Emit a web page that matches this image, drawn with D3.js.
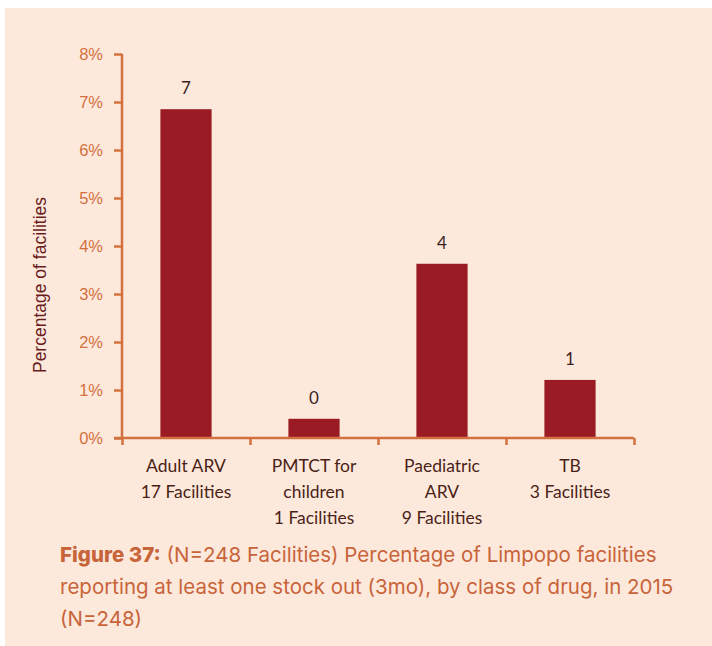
<!DOCTYPE html>
<html>
<head>
<meta charset="utf-8">
<script src="https://cdn.jsdelivr.net/npm/d3@7"></script>
<style>
  html, body { margin: 0; padding: 0; background: #ffffff; }
  svg { display: block; }
</style>
</head>
<body>
<svg id="chart" width="712" height="646"></svg>
<script>
const categories = [
  ["Adult ARV", "17 Facilities"],
  ["PMTCT for", "children", "1 Facilities"],
  ["Paediatric", "ARV", "9 Facilities"],
  ["TB", "3 Facilities"]
];
const percentValues = [6.85, 0.40, 3.63, 1.21];
const valueLabels = ["7", "0", "4", "1"];
const yTicks = [0, 1, 2, 3, 4, 5, 6, 7, 8];
const yTitle = "Percentage of facilities";
const captionBold = "Figure 37:";
const captionLines = [
  " (N=248 Facilities) Percentage of Limpopo facilities",
  "reporting at least one stock out (3mo), by class of drug, in 2015",
  "(N=248)"
];

const W = 712, H = 646;
const svg = d3.select("#chart");
const axisColor = "#d2703f";
const barColor = "#9a1b23";
const bg = "#fde9dc";

svg.append("rect").attr("x", 5).attr("y", 8).attr("width", W - 5).attr("height", H - 8).attr("fill", bg);

const x0 = 122, x1 = 634, yTop = 54, yBot = 438;
const x = d3.scaleBand().domain(d3.range(categories.length)).range([x0, x1]).paddingInner(0.6).paddingOuter(0.3);
const y = d3.scaleLinear().domain([0, 8]).range([yBot, yTop]);

// bars
svg.append("g").selectAll("rect").data(percentValues).join("rect")
  .attr("x", (d, i) => x(i))
  .attr("width", x.bandwidth())
  .attr("y", d => y(d))
  .attr("height", d => y(0) - y(d))
  .attr("fill", barColor);

// value labels
svg.append("g").selectAll("text").data(percentValues).join("text")
  .attr("x", (d, i) => x(i) + x.bandwidth() / 2)
  .attr("y", d => y(d) - 15)
  .attr("text-anchor", "middle")
  .attr("font-family", "Lato, 'Open Sans', sans-serif")
  .attr("font-size", 17)
  .attr("fill", "#3a1f1c")
  .text((d, i) => valueLabels[i]);

// y axis
const yAxis = d3.axisLeft(y).tickValues(yTicks).tickFormat(d => d + "%").tickSize(8).tickPadding(11);
const gy = svg.append("g").attr("transform", `translate(${x0},0)`).call(yAxis);
gy.select(".domain").attr("stroke", axisColor).attr("stroke-width", 2.5).attr("d", `M0,${yTop}V${yBot}`);
gy.selectAll(".tick line").attr("stroke", axisColor).attr("stroke-width", 2.5);
gy.selectAll(".tick text").attr("fill", axisColor).attr("font-family", "'Liberation Sans', Arial, sans-serif").attr("font-size", 16.5);

// x axis (category boundaries ticks)
const xb = d3.scaleLinear().domain([0, categories.length]).range([x0, x1]);
const xAxis = d3.axisBottom(xb).tickValues(d3.range(0, categories.length + 1)).tickFormat("").tickSize(7).tickSizeOuter(0);
const gx = svg.append("g").attr("transform", `translate(0,${yBot})`).call(xAxis);
gx.select(".domain").attr("stroke", axisColor).attr("stroke-width", 2.5).attr("d", `M${x0 - 8},0H${x1}`);
gx.selectAll(".tick line").attr("stroke", axisColor).attr("stroke-width", 2.5);

// category labels
const cl = svg.append("g").selectAll("text").data(categories).join("text")
  .attr("x", (d, i) => x(i) + x.bandwidth() / 2)
  .attr("y", 472)
  .attr("text-anchor", "middle")
  .attr("font-family", "Lato, 'Open Sans', sans-serif")
  .attr("font-size", 17.5)
  .attr("fill", "#4a1f17");
cl.selectAll("tspan").data(d => d).join("tspan")
  .attr("x", function() { return d3.select(this.parentNode).attr("x"); })
  .attr("dy", (d, i) => i === 0 ? 0 : 26)
  .text(d => d);

// y title
svg.append("text")
  .attr("transform", `translate(46,${(yTop + yBot) / 2 + 39}) rotate(-90)`)
  .attr("text-anchor", "middle")
  .attr("font-family", "'Liberation Sans', Arial, sans-serif")
  .attr("font-size", 17.5)
  .attr("fill", "#6a1c1c")
  .text(yTitle);

// caption
const cap = svg.append("g").attr("font-family", "Inter, 'Open Sans', sans-serif").attr("font-size", 20.5).attr("fill", "#c8643a");
captionLines.forEach((line, i) => {
  const t = cap.append("text").attr("x", 60).attr("y", 562 + i * 32);
  if (i === 0) {
    t.append("tspan").attr("font-weight", 800).text(captionBold);
  }
  t.append("tspan").attr("xml:space", "preserve").style("white-space", "pre").text(line);
});
</script>
</body>
</html>
